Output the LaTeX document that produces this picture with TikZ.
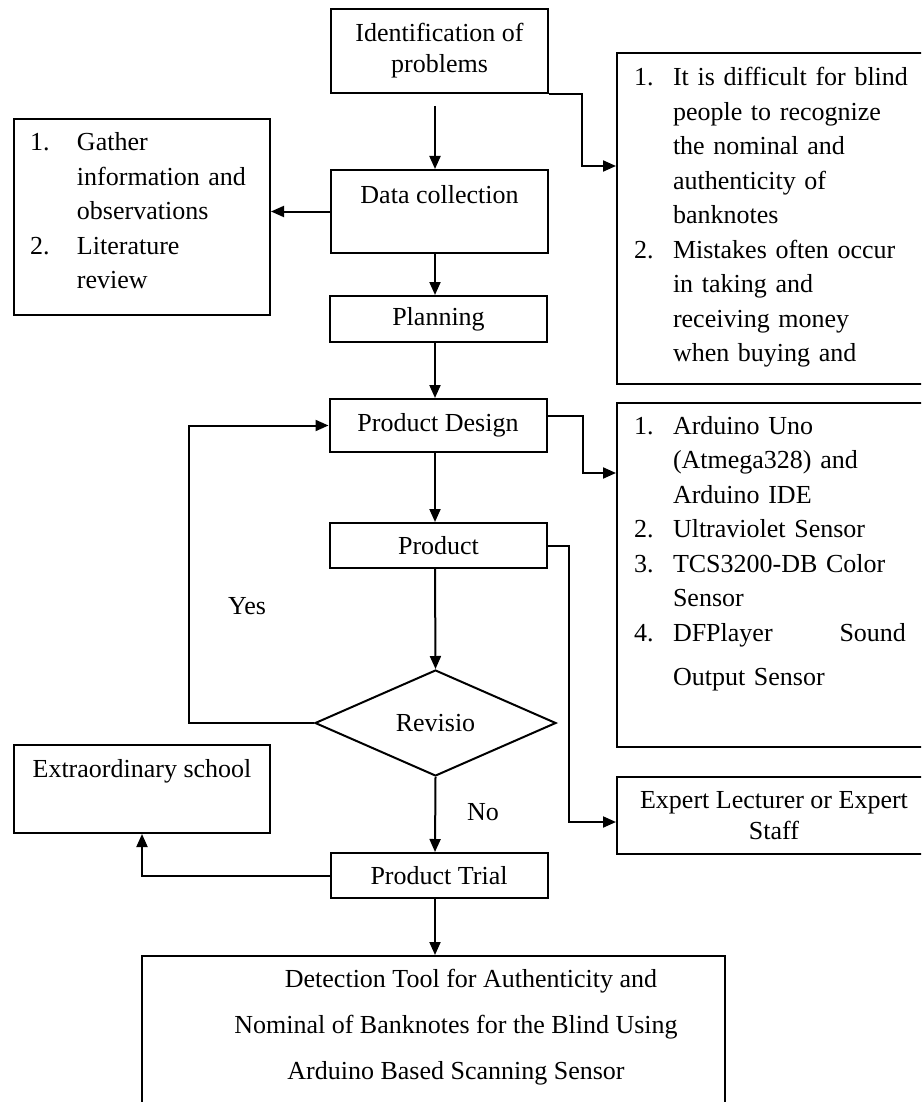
\documentclass[tikz,border=0pt]{standalone}
\usepackage{fontspec}
\setmainfont{Liberation Serif}
\usetikzlibrary{calc,arrows,arrows.meta,positioning,shapes.geometric}

\begin{document}
\begin{tikzpicture}[x=1pt,y=-1pt,font=\fontsize{26}{34.5}\selectfont]

\tikzset{box/.style={draw,line width=2pt,inner sep=0pt,minimum width=217pt,align=center},
listbox/.style={draw,line width=2pt,inner ysep=0pt,anchor=north west,align=left},
decision/.style={draw,line width=2pt,shape=diamond,inner sep=0pt,minimum width=241pt,minimum height=106pt},
arr/.style={line width=2pt,-{Triangle[length=13pt,width=11pt]}}}

\useasboundingbox (0,0) rectangle (921,1102);
\clip (0,0) rectangle (921,1102);

% Main column
\node[box,minimum height=84pt,font=\fontsize{26}{31}\selectfont] (ident) at (439.5,51) {Identification of\\problems};
\node[box,text height=34pt,text depth=49pt,anchor=north] (data) at (439.5,169) {Data collection};
\node[box,minimum height=46pt] (plan) at (438.5,319) {Planning};
\node[box,minimum height=53pt] (design) at (438,425.5) {Product Design};
\node[box,minimum height=45pt] (prod) at (438.5,545.5) {Product};
\node[decision] (rev) at (435.5,723) {Revisio};
\node[box,minimum height=45pt] (trial) at (439,875.5) {Product Trial};
\coordinate (spine) at (435,0);

% Side boxes
\node[listbox,text width=224pt,inner xsep=16pt,text height=32pt,text depth=164pt] (gather) at (13,118) {\begin{tabular}[t]{@{}p{47pt}@{}l@{}}
1. & Gather\\ & information and\\ & observations\\ 2. & Literature\\ & review\end{tabular}};
\node[listbox,text width=280pt,inner xsep=17pt,text height=33pt,text depth=298pt] (issue) at (616,52) {\begin{tabular}[t]{@{}p{39pt}@{}l@{}}
1. & It is difficult for blind\\ & people to recognize\\ & the nominal and\\ & authenticity of\\ & banknotes\\
2. & Mistakes often occur\\ & in taking and\\ & receiving money\\ & when buying and\end{tabular}};
\node[listbox,text width=280pt,inner xsep=17pt,text height=31pt,text depth=313pt] (parts) at (616,402) {\begin{tabular}[t]{@{}p{39pt}@{}l@{}}
1. & Arduino Uno\\ & (Atmega328) and\\ & Arduino IDE\\ 2. & Ultraviolet Sensor\\ 3. & TCS3200-DB Color\\ & Sensor\\
4. & \makebox[233pt][s]{DFPlayer\hfill Sound}\\[10pt] & Output Sensor\end{tabular}};
\node[box,minimum width=314pt,minimum height=77pt,font=\fontsize{26}{31}\selectfont,anchor=north west] (expert) at (616,776) {Expert Lecturer or Expert\\Staff};
\node[box,minimum width=256pt,text height=32pt,text depth=56pt,anchor=north west] (school) at (13,744) {Extraordinary school};

% Result
\node[box,minimum width=583pt,minimum height=160pt,anchor=north west] (tool) at (141,955) {};
\node[align=center,font=\fontsize{26}{46}\selectfont] (tooltext) at (456,1027) {\hspace*{30pt}Detection Tool for Authenticity and\\Nominal of Banknotes for the Blind Using\\Arduino Based Scanning Sensor};

% Labels
\node (yes) at (247,606) {Yes};
\node (no) at (483,812) {No};

% Entry points
\coordinate (issuein) at (616,166);
\coordinate (partsin) at (616,473);
\coordinate (expertin) at (616,822);

% Edges
\draw[arr] ($(ident.south -| spine)+(0,12)$) -- (data.north -| spine);
\draw[arr] (data.south -| spine) -- (plan.north -| spine);
\draw[arr] (plan.south -| spine) -- (design.north -| spine);
\draw[arr] (design.south -| spine) -- (prod.north -| spine);
\draw[arr] (prod.south -| spine) -- (rev.north);
\draw[arr] (rev.south) -- (trial.north -| spine);
\draw[arr] (trial.south -| spine) -- (tool.north -| spine);
\draw[arr] (data.west) -- (data.west -| gather.east);
\draw[arr] (ident.south east) -- ++(33,0) |- (issuein);
\draw[arr] ($(design.east)+(0,-10)$) -- ++(35,0) |- (partsin);
\draw[arr] (prod.east) -- ++(21,0) |- (expertin);
\draw[arr] (rev.west) -- ++(-125,0) |- (design.west);
\draw[arr] (trial.west) -| (school.south);

\end{tikzpicture}
\end{document}
